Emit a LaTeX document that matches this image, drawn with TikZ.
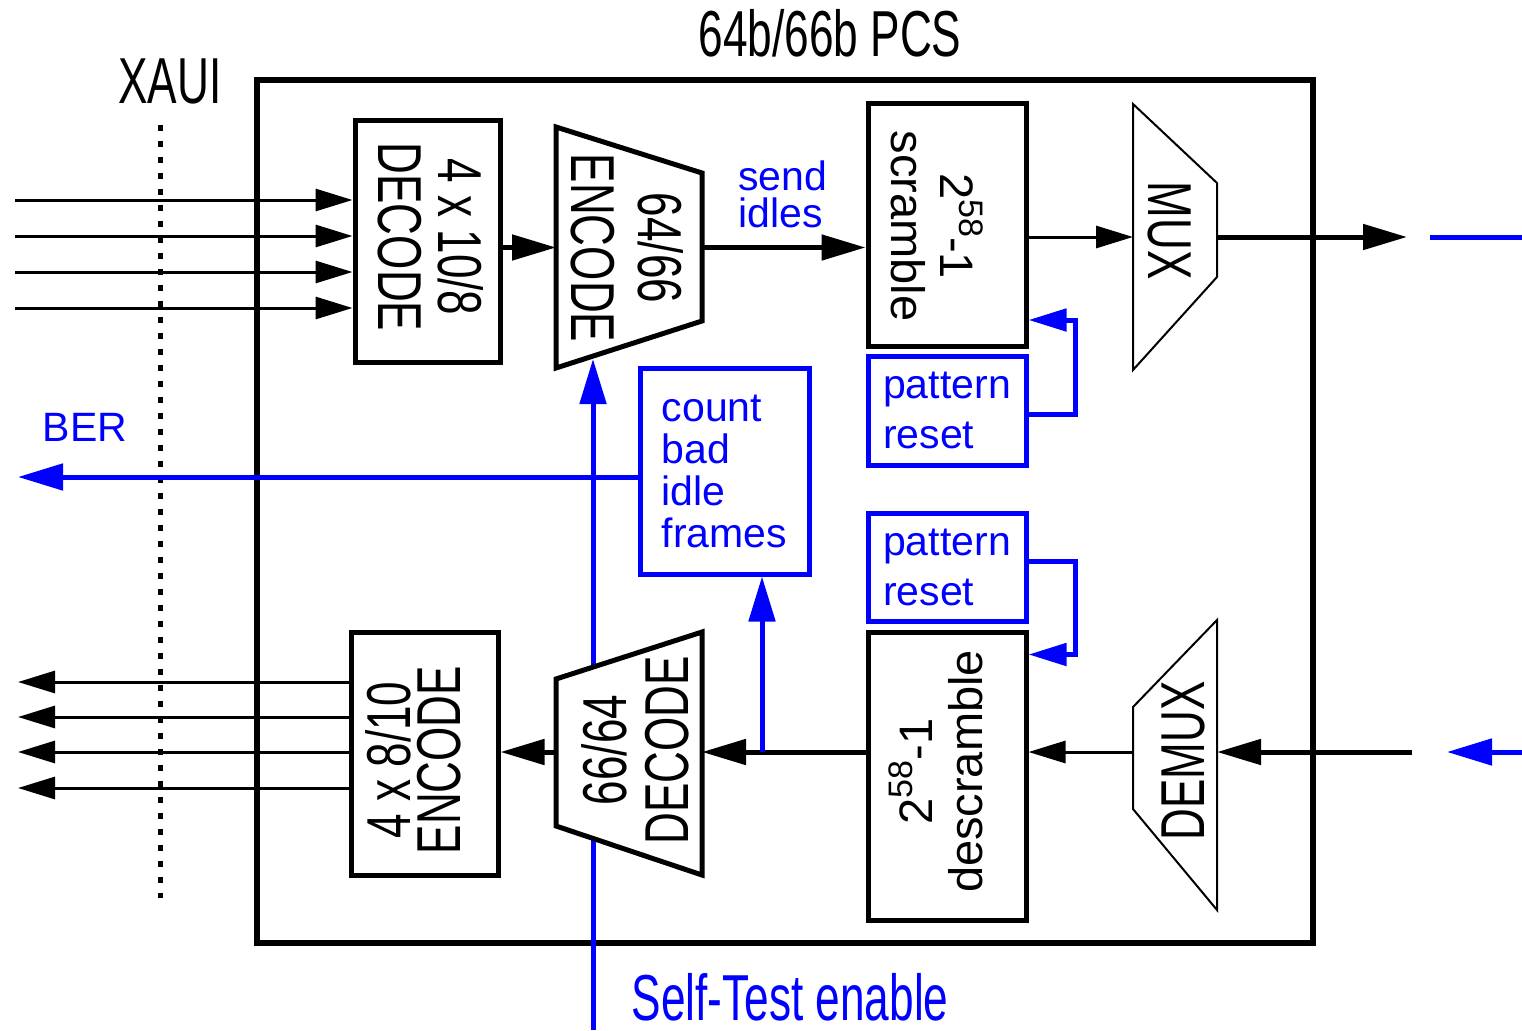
\documentclass[tikz,border=0pt]{standalone}
\usepackage{fontspec}
\setmainfont{Liberation Sans}
\newfontfamily\headsf[FakeStretch=0.68]{Liberation Sans}
\newfontfamily\narrowsf[FakeStretch=0.71]{Liberation Sans}
\usetikzlibrary{arrows.meta,positioning}
\newcommand{\pw}{2\raisebox{0.42em}{\fontsize{34}{34}\selectfont 58}-1}

\begin{document}
\lineskiplimit=-200pt
\begin{tikzpicture}[
  x=1pt, y=-1pt,
  head/.style={font=\headsf\fontsize{65}{70}\selectfont, inner sep=0pt},
  big/.style={font=\narrowsf\fontsize{62}{#1}\selectfont, align=center, inner sep=0pt},
  big/.default=60,
  note/.style={font=\fontsize{41}{#1}\selectfont, text=blue, align=left, inner sep=0pt},
  note/.default=42,
  blk/.style={draw, line width=5pt, inner sep=0pt},
  ghost/.style={inner sep=0pt, outer sep=0pt},
  trap/.style={draw, line width=5pt, fill=white},
  thintrap/.style={draw, line width=2pt, fill=white},
  bluebox/.style={draw=blue, line width=5pt, text=blue, align=left, inner sep=0pt, font=\fontsize{41}{50}\selectfont},
  thinarrow/.style={-{Triangle[length=37pt,width=22pt]}, line width=3pt},
  thickarrow/.style={-{Triangle[length=44pt,width=25pt]}, line width=5pt},
  bluearrow/.style={-{Triangle[length=45pt,width=26pt]}, line width=5pt, blue},
  resetarrow/.style={-{Triangle[length=38pt,width=22pt]}, line width=5pt, blue},
]
\useasboundingbox (0,0) rectangle (1522,1030);

% -- frame and titles --
\node[blk, line width=6pt, minimum width=1056pt, minimum height=863pt] (pcs) at (785,511.5) {};
\node[head] (title) at (830,33) {64b/66b PCS};
\node[head] (xaui) at (170,81) {XAUI};
\coordinate (xtop) at (160,125);
\coordinate (xbot) at (160,898);
\draw[line width=5pt, dash pattern=on 6pt off 10pt] (xtop) -- (xbot);

% -- self-test enable (runs under the 66/64 decoder) --
\coordinate (stin) at (593,1030);
\coordinate (encin) at (593,359);
\draw[bluearrow] (stin) -- (encin);
\node[head, text=blue] (selftest) at (790,997) {Self-Test enable};

% -- transmit path --
\node[blk, minimum width=145pt, minimum height=241pt] (dec108) at (427.5,241.5) {};
\node[big=60, rotate=-90] (dec108txt) at (431,237) {4 x 10/8\\DECODE};

\node[ghost, minimum width=146pt, minimum height=241pt] (enc) at (629,247.5) {};
\draw[trap] (enc.north west) -- ([yshift=-46pt]enc.north east) -- ([yshift=47pt]enc.south east) -- (enc.south west) -- cycle;
\node[big=67, rotate=-90] (enctxt) at (627.5,248) {64/66\\ENCODE};

\node[blk, minimum width=158pt, minimum height=242pt] (scr) at (947,225) {};
\node[big=49, rotate=-90, font=\fontsize{47}{49}\selectfont] (scrtxt) at (937,226) {\pw\\scramble};

\node[ghost, minimum width=84pt, minimum height=266pt] (mux) at (1175,237) {};
\draw[thintrap] (mux.north west) -- ([yshift=-79pt]mux.north east) -- ([yshift=93pt]mux.south east) -- (mux.south west) -- cycle;
\node[big, rotate=-90] (muxtxt) at (1170,230.5) {MUX};

\foreach \y [count=\i] in {200,236,272,308} {
  \coordinate (rx\i) at (15,\y);
  \draw[thinarrow] (rx\i) -- (rx\i -| dec108.west);
}
\draw[thickarrow] (dec108.east |- enc.west) -- (enc.west);
\draw[thickarrow] (enc.east) -- (scr.west |- enc.east);
\node[note=37, anchor=north west] (idles) at (738,161) {send\\idles};
\draw[thinarrow] (scr.east |- mux.west) -- (mux.west);
\coordinate (txout) at (1407,237);
\draw[thickarrow] (mux.east) -- (txout);
\coordinate (linka) at (1430,237);
\coordinate (linkb) at (1522,237);
\draw[line width=5pt, blue] (linka) -- (linkb);

% -- pattern resets --
\node[bluebox, minimum width=158pt, minimum height=109pt] (pr1) at (947,410.5) {pattern\\reset};
\draw[resetarrow] ([yshift=-4pt]pr1.east) -- ++(47,0) |- ([yshift=-95pt]scr.east);
\node[bluebox, minimum width=158pt, minimum height=108pt] (pr2) at (947,567) {pattern\\reset};

% -- error counter --
\node[bluebox, font=\fontsize{41}{42}\selectfont, minimum width=169pt, minimum height=206pt] (cnt) at (724.5,471) {count\\bad\\idle\\frames};
\coordinate (berend) at (18,477);
\draw[bluearrow] (cnt.west |- berend) -- (berend);
\node[note] (ber) at (85,427) {BER};

% -- receive path --
\node[ghost, minimum width=84pt, minimum height=290pt] (dmx) at (1175,765) {};
\draw[thintrap] (dmx.north east) -- (dmx.south east) -- ([yshift=101pt]dmx.south west) -- ([yshift=-87pt]dmx.north west) -- cycle;
\node[big, rotate=90] (dmxtxt) at (1183,761) {DEMUX};

\node[blk, minimum width=158pt, minimum height=288pt] (descr) at (947,776) {};
\node[big=50, rotate=90, font=\fontsize{47}{50}\selectfont] (descrtxt) at (936,771.5) {\pw\\descramble};
\draw[resetarrow] ([yshift=6pt]pr2.east) -- ++(47,0) |- ([yshift=-25pt]descr.north east);

\node[ghost, minimum width=146pt, minimum height=243pt] (dec) at (629,753.5) {};
\draw[trap] ([yshift=-47pt]dec.north west) -- (dec.north east) -- (dec.south east) -- ([yshift=49pt]dec.south west) -- cycle;
\node[big=62, rotate=90] (dectxt) at (635,750) {66/64\\DECODE};

\node[blk, minimum width=147pt, minimum height=243pt] (enc810) at (424.5,753.5) {};
\node[big=50, rotate=90] (enc810txt) at (413,760) {4 x 8/10\\ENCODE};

\coordinate (rxin) at (1412,752);
\draw[thickarrow] (rxin) -- (rxin -| dmx.east);
\coordinate (linkc) at (1522,752);
\coordinate (linkd) at (1447,752);
\draw[bluearrow] (linkc) -- (linkd);
\draw[thinarrow] (dmx.west |- rxin) -- (descr.east |- rxin);
\draw[thickarrow] (descr.west |- rxin) -- (dec.east |- rxin);
\coordinate (tap) at (762,752);
\draw[bluearrow] (tap) -- (tap |- cnt.south);
\draw[thickarrow] (dec.west |- rxin) -- (enc810.east |- rxin);
\foreach \y [count=\i] in {682,717,752,788} {
  \coordinate (tx\i) at (18,\y);
  \draw[thinarrow] (tx\i -| enc810.west) -- (tx\i);
}

\end{tikzpicture}
\end{document}
